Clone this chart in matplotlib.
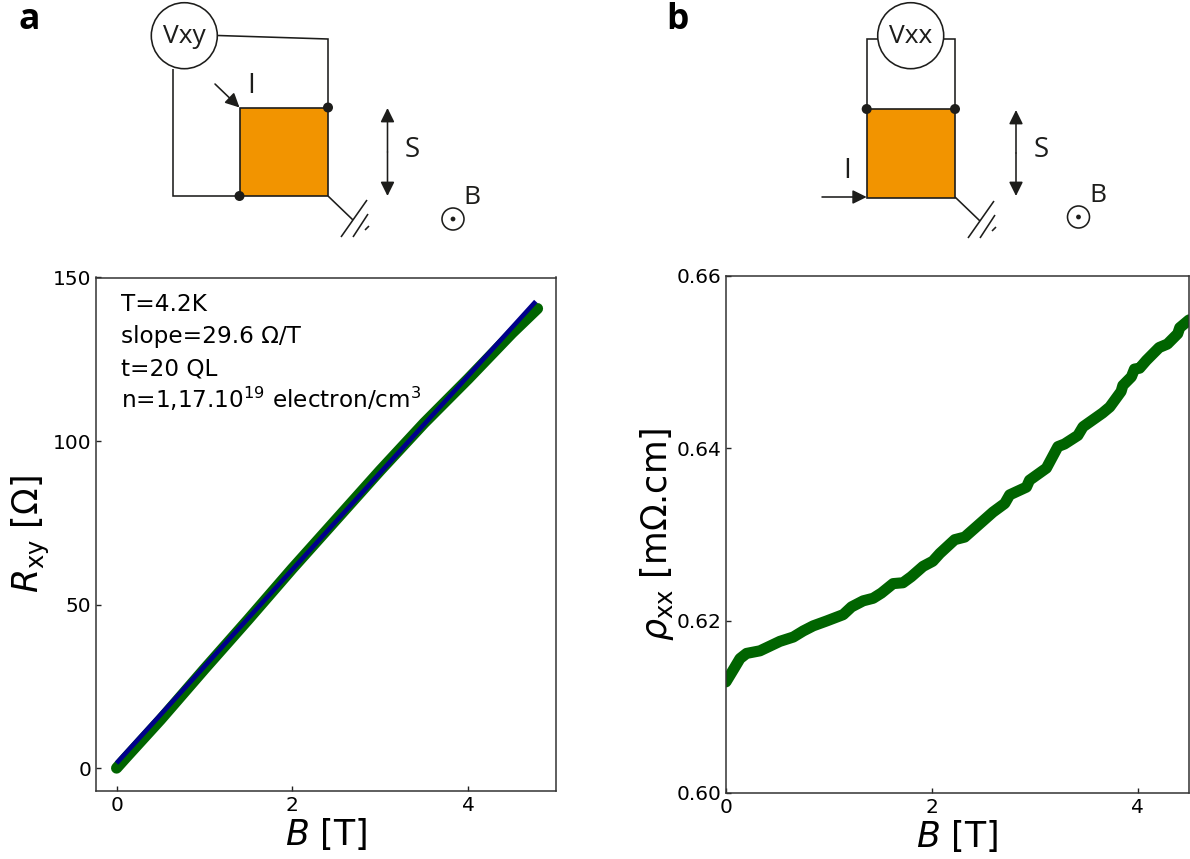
import matplotlib
matplotlib.use('Agg')
import matplotlib.pyplot as plt
from matplotlib.patches import Circle, Rectangle

W, H = 1190, 859

# Panel a: Hall resistance and its linear fit
b_hall = [0, 0.1, 0.5, 1, 1.5, 2, 2.5, 3, 3.5, 4, 4.5, 4.79]
r_hall = [0, 3.0, 14.8, 30.3, 45.5, 61, 76, 91, 105.5, 119, 133, 140.5]
b_fit = [0, 4.77]
r_fit = [1.5, 142.7]

# Panel b: longitudinal resistivity
b_rho = [0, 0.071, 0.136, 0.2, 0.33, 0.524, 0.654, 0.75, 0.848, 0.977, 1.139, 1.22,
         1.333, 1.43, 1.51, 1.624, 1.72, 1.80, 1.915, 2.01, 2.078, 2.223, 2.32, 2.434,
         2.595, 2.709, 2.757, 2.92, 2.95, 3.114, 3.226, 3.29, 3.42, 3.47, 3.66, 3.73,
         3.84, 3.857, 3.94, 3.97, 4.02, 4.085, 4.21, 4.29, 4.39, 4.41, 4.5]
rho = [.6129, .6143, .6156, .6162, .6165, .6176, .6181, .6188, .6194, .61996, .6207, .6216,
       .6223, .6226, .6232, .6243, .6244, .6251, .6263, .6269, .6278, .6294, .6297, .6309,
       .6326, .6336, .6346, .6355, .6363, .6377, .6402, .6405, .6415, .6425, .6441, .6448,
       .6466, .6473, .6483, .6492, .6493, .6502, .6517, .6521, .6533, .6540, .6549]

info_lines = ['T=4.2K', 'slope=29.6 Ω/T', 't=20 QL',
              r'n=1,17.10$^{19}$ electron/cm$^{3}$']

GREEN = '#006400'
BLUE = '#00008b'
ORANGE = '#f29400'
INK = '#1d1d1b'
SANS = 'Open Sans'


def axes_px(fig, left, top, right, bottom):
    return fig.add_axes([left / W, 1 - bottom / H, (right - left) / W, (bottom - top) / H])


def style_axes(ax):
    ax.tick_params(direction='in', length=3.6, width=1, labelsize=14.5, color='#222222')
    for s in ax.spines.values():
        s.set_linewidth(1.1)
        s.set_color('#333333')


def wire(ov, xs, ys, lw=1.15):
    ov.plot(xs, ys, color=INK, lw=lw, solid_capstyle='butt', solid_joinstyle='miter')


def arrow(ov, start, end):
    ov.annotate('', xy=end, xytext=start,
                arrowprops=dict(arrowstyle='-|>,head_length=0.85,head_width=0.42', mutation_scale=10,
                                color=INK, lw=1.15, shrinkA=0, shrinkB=0))


def sample(ov, x0, y0):
    ov.add_patch(Rectangle((x0, y0), 88.5, 88.5, fc=ORANGE, ec=INK, lw=1.2, zorder=2))


def dot(ov, x, y):
    ov.add_patch(Circle((x, y), 5, fc=INK, ec='none', zorder=4))


def meter(ov, x, y, label):
    ov.add_patch(Circle((x, y), 33, fc='white', ec=INK, lw=1.15, zorder=3))
    ov.text(x, y + 7, label, ha='center', va='baseline', fontsize=19, family=SANS, color=INK, zorder=5)


def ground(ov, x, y):
    wire(ov, [x, x + 25], [y, y + 24])
    wire(ov, [x + 13, x + 39], [y + 41, y + 4])
    wire(ov, [x + 25, x + 40], [y + 41, y + 18])
    wire(ov, [x + 37, x + 41], [y + 34, y + 30])


def field(ov, x, y):
    ov.add_patch(Circle((x, y), 11, fc='white', ec=INK, lw=1.15))
    ov.add_patch(Circle((x, y), 2.4, fc=INK, ec='none'))
    ov.text(x + 19, y - 21, 'B', ha='center', va='center', fontsize=19, family=SANS, color=INK)


def label(ov, x, y, s, size=20):
    ov.text(x, y, s, ha='center', va='center', fontsize=size, family=SANS, color=INK)


fig = plt.figure(figsize=(W / 100, H / 100), dpi=100)

# Hall panel
ax = axes_px(fig, 96, 277.5, 556, 791)
ax.plot(b_hall, r_hall, color=GREEN, lw=8, solid_capstyle='round', solid_joinstyle='round')
ax.plot(b_fit, r_fit, color=BLUE, lw=3.3, solid_capstyle='butt')
ax.set_xlim(-0.234, 5.0)
ax.set_ylim(-7, 150)
ax.set_xticks([0, 2, 4])
ax.set_yticks([0, 50, 100, 150])
ax.set_xlabel(r'$B$ [T]', fontsize=25, labelpad=1)
ax.set_ylabel(r'$R_{\rm xy}$ [Ω]', fontsize=25, labelpad=0.5)
style_axes(ax)

# Resistivity panel
ax2 = axes_px(fig, 726, 276, 1189, 793)
ax2.plot(b_rho, rho, color=GREEN, lw=8, solid_capstyle='round', solid_joinstyle='round')
ax2.set_xlim(0, 4.5)
ax2.set_ylim(0.60, 0.66)
ax2.set_xticks([0, 2, 4])
ax2.set_yticks([0.60, 0.62, 0.64, 0.66])
ax2.set_yticklabels(['0.60', '0.62', '0.64', '0.66'])
ax2.set_xlabel(r'$B$ [T]', fontsize=25, labelpad=1)
ax2.set_ylabel(r'$\rho_{\rm xx}$ [mΩ.cm]', fontsize=25, labelpad=0.5)
style_axes(ax2)

# Overlay in pixel coordinates for the schematics
ov = fig.add_axes([0, 0, 1, 1], facecolor='none')
ov.set_xlim(0, W)
ov.set_ylim(H, 0)
ov.axis('off')

for y, line in zip([310.7, 342.7, 375.7, 408.3], info_lines):
    ov.text(121, y, line, ha='left', va='baseline', fontsize=16.7)

ov.text(29, 29, 'a', ha='center', va='baseline', fontsize=25.5, family=SANS, fontweight='bold', color='black')
ov.text(677, 29, 'b', ha='center', va='baseline', fontsize=25.5, family=SANS, fontweight='bold', color='black')

# a: Hall wiring
wire(ov, [218, 328, 328], [35.5, 39, 107])
wire(ov, [173, 173, 239.5], [69, 196, 196])
sample(ov, 239.5, 107.5)
dot(ov, 328, 107.5)
dot(ov, 239.5, 196)
meter(ov, 184.3, 35.7, 'Vxy')
arrow(ov, (215, 84), (239.5, 107.5))
label(ov, 251, 86, 'I')
arrow(ov, (387.5, 152), (387.5, 108))
arrow(ov, (387.5, 152), (387.5, 196))
label(ov, 412, 150, 'S')
ground(ov, 328, 196)
field(ov, 453, 219)

# b: longitudinal wiring
wire(ov, [878, 866.7, 866.7], [39, 39, 109])
wire(ov, [943, 955, 955], [39, 39, 109])
sample(ov, 866.7, 109)
dot(ov, 866.7, 109)
dot(ov, 955, 109)
meter(ov, 910.7, 35.7, 'Vxx')
arrow(ov, (822, 197), (866.7, 197))
label(ov, 847, 171, 'I')
arrow(ov, (1016, 153), (1016, 110))
arrow(ov, (1016, 153), (1016, 196))
label(ov, 1041, 150, 'S')
ground(ov, 955, 197)
field(ov, 1078.5, 217)

fig.savefig('out.png', dpi=100)
